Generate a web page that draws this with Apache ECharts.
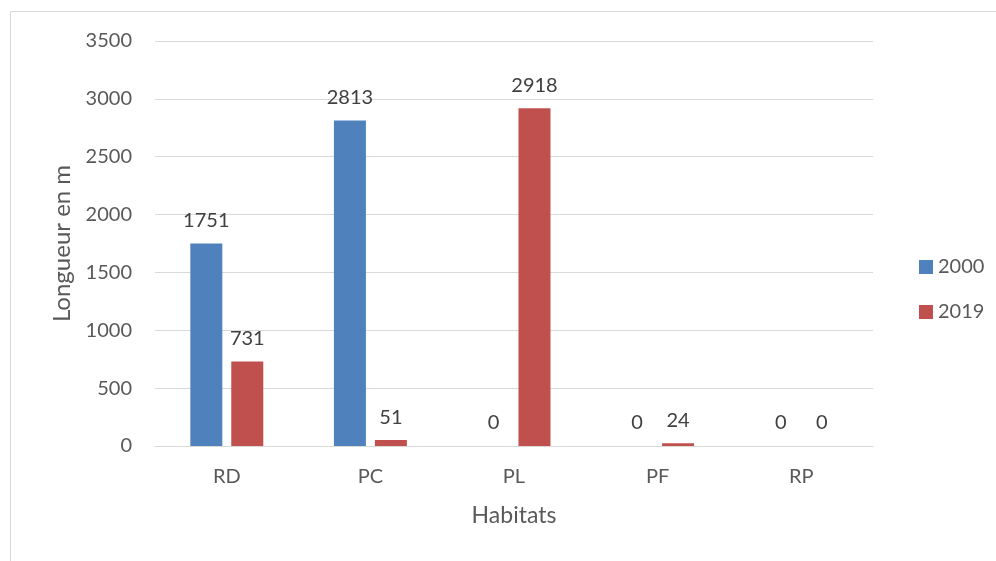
<!DOCTYPE html>
<html><head><meta charset="utf-8">
<script src="https://cdn.jsdelivr.net/npm/echarts@6/dist/echarts.min.js"></script>
<style>html,body{margin:0;padding:0;background:#fff}#c{width:996px;height:561px}</style>
</head><body><div id="c"></div>
<script>
const categories = ['RD','PC','PL','PF','RP'];
const series2000 = [1751, 2813, 0, 0, 0];
const series2019 = [731, 51, 2918, 24, 0];
const seriesNames = ['2000','2019'];
const yTicks = {min:0, max:3500, interval:500};

const FONT = 'Lato, "Open Sans", sans-serif';
const chart = echarts.init(document.getElementById('c'), null, {renderer:'canvas'});
const labelStyle = {show:true, position:'top', distance:13, color:'#404040', fontSize:20, fontFamily:FONT};
chart.setOption({
  animation:false,
  textStyle:{fontFamily:FONT},
  graphic:[{type:'rect', shape:{x:10.5,y:11.5,width:1000,height:600}, style:{fill:'none', stroke:'#d9d9d9', lineWidth:1}, silent:true}],
  grid:{left:155, right:123, top:41, bottom:115},
  legend:{orient:'vertical', left:914, top:252, itemGap:25, itemWidth:14, itemHeight:14, icon:'rect',
    textStyle:{fontSize:20, color:'#595959', fontFamily:FONT}, data:seriesNames},
  xAxis:{type:'category', data:categories, name:'Habitats', nameLocation:'middle', nameGap:58,
    nameTextStyle:{fontSize:23, color:'#595959', fontFamily:FONT},
    axisLine:{lineStyle:{color:'#d9d9d9', width:1}}, axisTick:{show:false},
    axisLabel:{fontSize:20, color:'#595959', margin:21, fontFamily:FONT}},
  yAxis:{type:'value', min:yTicks.min, max:yTicks.max, interval:yTicks.interval,
    name:'Longueur en m', nameLocation:'middle', nameGap:80, nameRotate:90,
    nameTextStyle:{fontSize:24, color:'#595959', fontFamily:FONT},
    axisLine:{show:false}, axisTick:{show:false},
    axisLabel:{fontSize:20, color:'#595959', margin:23, fontFamily:FONT, formatter: v => String(v)},
    splitLine:{lineStyle:{color:'#d9d9d9', width:1}}},
  series:[
    {name:seriesNames[0], type:'bar', data:series2000, barWidth:32, barGap:'28%', itemStyle:{color:'#4F81BD'}, label:labelStyle},
    {name:seriesNames[1], type:'bar', data:series2019, barWidth:32, itemStyle:{color:'#C0504D'}, label:labelStyle}
  ]
});
</script></body></html>
